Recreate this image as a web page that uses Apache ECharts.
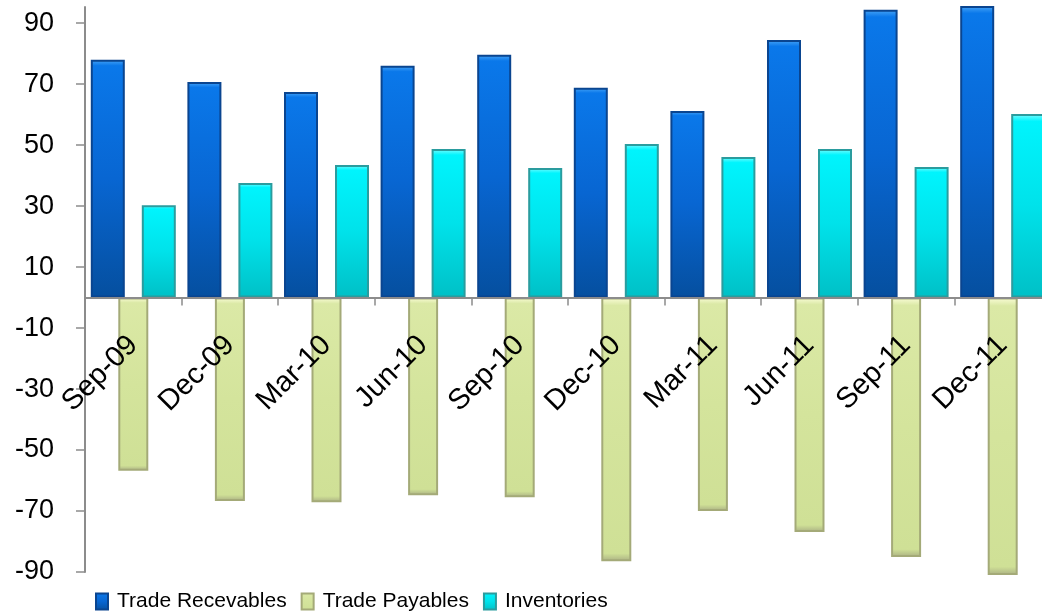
<!DOCTYPE html>
<html>
<head>
<meta charset="utf-8">
<script src="https://cdn.jsdelivr.net/npm/echarts@6/dist/echarts.min.js"></script>
<style>
  html, body { margin: 0; padding: 0; background: #ffffff; }
  #chart { width: 1042px; height: 615px; }
</style>
</head>
<body>
<div id="chart"></div>
<script>
// Quarterly working-capital components
const quarters = ['Sep-09', 'Dec-09', 'Mar-10', 'Jun-10', 'Sep-10', 'Dec-10', 'Mar-11', 'Jun-11', 'Sep-11', 'Dec-11'];
const tradeReceivables = [78, 70.7, 67.4, 76, 79.6, 68.8, 61.2, 84.5, 94.4, 97];
const tradePayables = [-56.8, -66.7, -67.1, -64.8, -65.5, -86.5, -70, -76.9, -85.1, -91];
const inventories = [30.3, 37.6, 43.5, 48.7, 42.5, 50.4, 46.1, 48.7, 42.8, 60.2];
const yTicks = [-90, -70, -50, -30, -10, 10, 30, 50, 70, 90];

const axisGrey = '#8c8c8c';

// plot frame
const gridTop = 7, gridHeight = 565, yMin = -90, yMax = 95.3;
// lift the category axis from the frame bottom up to the zero line
const zeroLift = gridHeight * (0 - yMin) / (yMax - yMin);

function vGrad(stops) {
  return {
    type: 'linear', x: 0, y: 0, x2: 0, y2: 1,
    colorStops: stops.map(s => ({ offset: s[0], color: s[1] }))
  };
}

const blueFill = vGrad([[0, '#49a6f7'], [0.025, '#0a78ea'], [0.5, '#0866d2'], [1, '#054f9f']]);
const cyanFill = vGrad([[0, '#7afcff'], [0.04, '#00f4fd'], [0.5, '#00e2ea'], [1, '#00c0c6']]);
const greenFill = vGrad([[0, '#fbfdd8'], [0.03, '#dbe9a6'], [0.5, '#d4e49c'], [0.97, '#cfe096'], [1, '#aab084']]);

const chart = echarts.init(document.getElementById('chart'), null, { renderer: 'canvas' });

chart.setOption({
  animation: false,
  grid: { left: 85, top: gridTop, width: 966, height: gridHeight, containLabel: false, outerBoundsMode: 'none' },
  legend: {
    left: 90,
    top: 586,
    itemWidth: 12,
    itemHeight: 16,
    itemGap: 14,
    icon: 'rect',
    textStyle: {
      fontFamily: '"Liberation Sans", sans-serif',
      fontSize: 21,
      color: '#000000',
      padding: [0, 0, 0, 4]
    },
    data: ['Trade Recevables', 'Trade Payables', 'Inventories']
  },
  xAxis: [
    {
      type: 'category',
      data: quarters,
      offset: -zeroLift,
      z: 10,
      axisLine: { onZero: false, lineStyle: { color: axisGrey, width: 2 } },
      axisTick: { show: true, alignWithLabel: false, length: 8, lineStyle: { color: axisGrey, width: 1.5 } },
      axisLabel: {
        interval: 0,
        rotate: 45,
        margin: 43,
        hideOverlap: false,
        fontFamily: '"Liberation Sans", sans-serif',
        fontSize: 29,
        color: '#000000'
      },
      splitLine: { show: false }
    },
    {
      type: 'category',
      data: quarters,
      show: false
    }
  ],
  yAxis: {
    type: 'value',
    min: yMin,
    max: yMax,
    interval: 20,
    axisLine: { show: true, lineStyle: { color: axisGrey, width: 2 } },
    axisTick: { show: true, length: 9, customValues: yTicks, lineStyle: { color: axisGrey, width: 1.5 } },
    axisLabel: {
      customValues: yTicks,
      margin: 31,
      fontFamily: '"Liberation Sans", sans-serif',
      fontSize: 27,
      color: '#000000'
    },
    splitLine: { show: false }
  },
  series: [
    {
      name: 'Trade Recevables',
      type: 'bar',
      xAxisIndex: 0,
      data: tradeReceivables,
      barWidth: 34,
      barGap: '50%',
      itemStyle: { color: blueFill, borderColor: '#0a4590', borderWidth: 2 }
    },
    {
      name: 'Inventories',
      type: 'bar',
      xAxisIndex: 0,
      data: inventories,
      barWidth: 34,
      barGap: '50%',
      itemStyle: { color: cyanFill, borderColor: '#2a9c9e', borderWidth: 2 }
    },
    {
      name: 'Trade Payables',
      type: 'bar',
      xAxisIndex: 1,
      data: tradePayables,
      barWidth: 30,
      clip: false,
      z: 1,
      itemStyle: { color: greenFill, borderColor: '#a4aa78', borderWidth: 2 }
    }
  ]
});
</script>
</body>
</html>
